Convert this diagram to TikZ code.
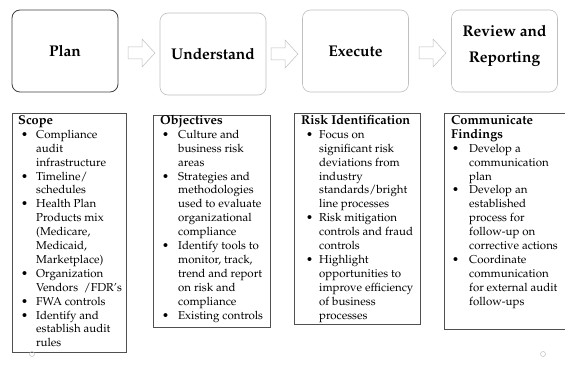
\documentclass[tikz,border=0pt]{standalone}
\usepackage[T1]{fontenc}
\usepackage{mathpazo}
\usepackage{array}
\definecolor{lightedge}{HTML}{BFBFBF}
\definecolor{darkedge}{HTML}{404040}
\definecolor{boxedge}{HTML}{505050}
\newcommand\hd{\fontsize{12.8}{13.9}\selectfont\bfseries}
\newcommand\bodyfont{\fontsize{11.5}{13.9}\selectfont}
\newcommand\blkarrow[2]{\draw[arr] (#1,#2-6) -- ++(14,0) -- ++(0,-8) -- ++(13,14) -- ++(-13,14) -- ++(0,-8) -- ++(-14,0) -- cycle;}
\tikzset{
  topbox/.style={draw=lightedge, line width=0.6pt, rounded corners=8pt, minimum width=106pt, minimum height=82pt, align=center, inner sep=0pt, font=\fontsize{15.5}{26}\selectfont\bfseries},
  toptext/.style={align=center, inner sep=0pt, font=\fontsize{15.5}{26}\selectfont\bfseries},
  arr/.style={draw=lightedge, fill=white, line width=0.5pt, line join=miter},
  botbox/.style={draw=boxedge, line width=0.8pt, anchor=north west, inner sep=0pt},
  txt/.style={anchor=base west, inner sep=0pt, font=\bodyfont},
  dot/.style={draw=lightedge, circle, minimum size=5pt, inner sep=0pt, line width=0.5pt}
}
\begin{document}
\begin{tikzpicture}[x=1pt,y=-1pt]
\useasboundingbox (0,0) rectangle (565,369);
% top boxes
\node[topbox, draw=darkedge, line width=0.8pt] (plan) at (65,51) {Plan};
\node[topbox] (understand) at (213,54) {Understand};
\node[topbox] (execute) at (355.5,51) {Execute};
\node[topbox] (review) at (504.5,51) {};
\node[toptext] (reviewtxt) at (504.5,46) {Review and\\Reporting};
% block arrows
\blkarrow{128}{53}
\blkarrow{271}{54}
\blkarrow{419}{53}
% bottom boxes
\node[botbox, minimum width=114pt, minimum height=239pt] (scopebox) at (12,113) {};
\node[botbox, minimum width=117pt, minimum height=212pt] (objbox) at (153,115) {};
\node[botbox, minimum width=126pt, minimum height=211pt] (riskbox) at (294,113) {};
\node[botbox, minimum width=130pt, minimum height=216pt] (commbox) at (444,113) {};
% texts
\node[txt] (scopetxt) at (12,124.5) {\begin{tabular}[t]{@{\hspace{9pt}}p{15pt}@{}l@{}}
\multicolumn{2}{@{\hspace{6pt}}l@{}}{\hd Scope}\\
\textbullet & Compliance\\
 & audit\\
 & infrastructure\\
\textbullet & Timeline/\\
 & schedules\\
\textbullet & Health Plan\\
 & Products mix\\
 & (Medicare,\\
 & Medicaid,\\
 & Marketplace)\\
\textbullet & Organization\\
 & Vendors\ \ /FDR's\\
\textbullet & FWA controls\\
\textbullet & Identify and\\
 & establish audit\\
 & rules
\end{tabular}};
\node[txt] (objtxt) at (153,124.5) {\begin{tabular}[t]{@{\hspace{9pt}}p{16pt}@{}l@{}}
\multicolumn{2}{@{\hspace{7pt}}l@{}}{\hd Objectives}\\
\textbullet & Culture and\\
 & business risk\\
 & areas\\
\textbullet & Strategies and\\
 & methodologies\\
 & used to evaluate\\
 & organizational\\
 & compliance\\
\textbullet & Identify tools to\\
 & monitor, track,\\
 & trend and report\\
 & on risk and\\
 & compliance\\
\textbullet & Existing controls
\end{tabular}};
\node[txt] (risktxt) at (294,124.5) {\begin{tabular}[t]{@{\hspace{12pt}}p{13pt}@{}l@{}}
\multicolumn{2}{@{\hspace{7pt}}l@{}}{\hd Risk Identification}\\
\textbullet & Focus on\\
 & significant risk\\
 & deviations from\\
 & industry\\
 & standards/bright\\
 & line processes\\
\textbullet & Risk mitigation\\
 & controls and fraud\\
 & controls\\
\textbullet & Highlight\\
 & opportunities to\\
 & improve efficiency\\
 & of business\\
 & processes
\end{tabular}};
\node[txt] (commtxt) at (444,124.5) {\begin{tabular}[t]{@{\hspace{8pt}}p{17pt}@{}l@{}}
\multicolumn{2}{@{\hspace{7pt}}l@{}}{\hd Communicate}\\
\multicolumn{2}{@{\hspace{7pt}}l@{}}{\hd Findings}\\
\textbullet & Develop a\\
 & communication\\
 & plan\\
\textbullet & Develop an\\
 & established\\
 & process for\\
 & follow-up on\\
 & corrective actions\\
\textbullet & Coordinate\\
 & communication\\
 & for external audit\\
 & follow-ups
\end{tabular}};
% small circles
\node[dot] (c1) at (32,354) {};
\node[dot] (c2) at (543,354) {};
\end{tikzpicture}
\end{document}
